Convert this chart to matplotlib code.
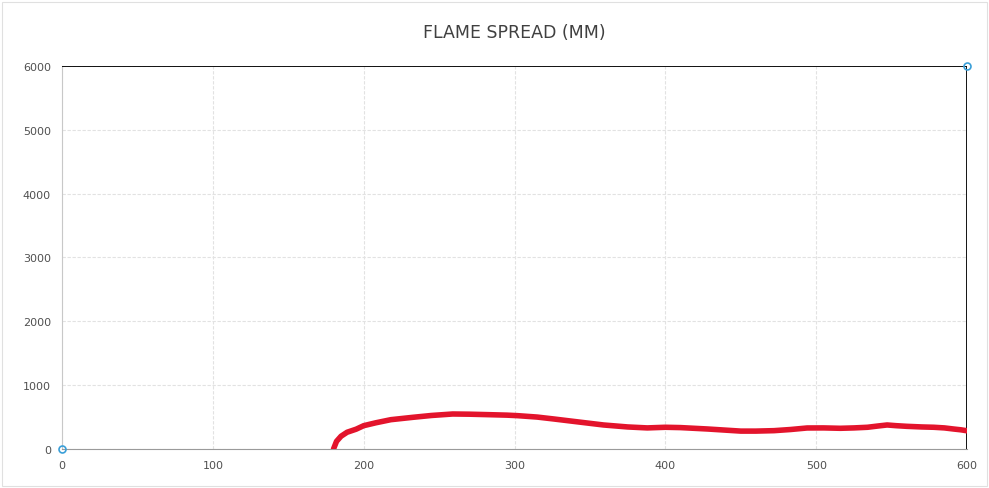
import numpy as np
import matplotlib.pyplot as plt

# Flame spread curve
time_s = [180, 182, 185, 189, 195, 200, 208, 218, 233, 245, 259, 270, 282,
          295, 302, 315, 326, 340, 359, 375, 388, 400, 410, 428, 440, 450,
          460, 472, 483, 494, 505, 516, 525, 534, 541, 547, 553, 560, 570,
          578, 585, 591, 596, 600]
spread_mm = [0, 120, 200, 262, 310, 365, 410, 459, 497, 525, 548, 545, 538,
             530, 522, 500, 470, 430, 376, 345, 330, 340, 335, 313, 295, 280,
             280, 287, 305, 329, 330, 324, 330, 340, 360, 376, 365, 355, 345,
             340, 330, 313, 300, 285]

# corner markers and frame series
corner_x = [0, 600]
corner_y = [0, 6000]
frame_x = [0, 600, 600]
frame_y = [6000, 6000, 0]

x_ticks = [0, 100, 200, 300, 400, 500, 600]
y_ticks = [0, 1000, 2000, 3000, 4000, 5000, 6000]

fig = plt.figure(figsize=(9.89, 4.89), dpi=100)
ax = fig.add_axes([0.0627, 0.0798, 0.9151, 0.7832])

ax.plot(frame_x, frame_y, color='black', linewidth=1.3, zorder=3)
ax.plot(time_s, spread_mm, color='#e3142c', linewidth=4,
        solid_capstyle='round', solid_joinstyle='round', zorder=4)
ax.plot(corner_x, corner_y, linestyle='none', marker='o', markersize=5,
        markerfacecolor='none', markeredgecolor='#3a9fd8',
        markeredgewidth=1.2, zorder=5, clip_on=False)

ax.set_xlim(0, 600)
ax.set_ylim(0, 6000)
ax.set_xticks(x_ticks)
ax.set_yticks(y_ticks)
ax.grid(True, color='#e2e2e2', linewidth=0.8, linestyle=(0, (3, 1.5)))
ax.set_axisbelow(True)

for side in ['top', 'right']:
    ax.spines[side].set_visible(False)
ax.spines['left'].set_color('#c8c8c8')
ax.spines['bottom'].set_color('#9a9a9a')
ax.tick_params(length=0, labelsize=8, colors='#505050', pad=8)

fig.text(0.52, 0.932, 'FLAME SPREAD (MM)', ha='center', va='center',
         fontsize=12.5, color='#404040')

# faint outer border of the scanned chart
fig.patches.append(plt.Rectangle((0.002, 0.004), 0.996, 0.99,
                                 transform=fig.transFigure, fill=False,
                                 edgecolor='#e0e0e0', linewidth=0.8))

fig.savefig('out.png', dpi=100)
